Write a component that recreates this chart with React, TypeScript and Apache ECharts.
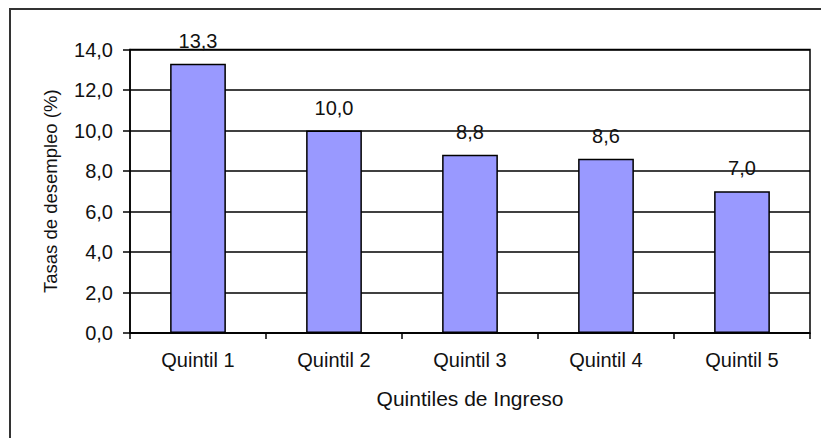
import React, { useEffect, useRef } from "react";
import * as echarts from "echarts";

const categories = ["Quintil 1", "Quintil 2", "Quintil 3", "Quintil 4", "Quintil 5"];
const values = [13.3, 10.0, 8.8, 8.6, 7.0];
const yTicks = { min: 0, max: 14, interval: 2 };
const xName = "Quintiles de Ingreso";
const yName = "Tasas de desempleo (%)";

const FONT = "'Liberation Sans', Arial, sans-serif";
const comma = (v: number) => v.toFixed(1).replace(".", ",");

export default function App() {
  const ref = useRef<HTMLDivElement>(null);
  useEffect(() => {
    if (!ref.current) return;
    const chart = echarts.init(ref.current, undefined, { renderer: "svg" });
    chart.setOption({
      animation: false,
      backgroundColor: "#ffffff",
      textStyle: { fontFamily: FONT },
      graphic: [
        {
          type: "rect",
          shape: { x: 10, y: 9, width: 840, height: 460 },
          style: { fill: "none", stroke: "#333", lineWidth: 2 },
          silent: true,
        },
      ],
      grid: {
        left: 130,
        top: 49.5,
        right: 11,
        bottom: 105,
        show: true,
        borderColor: "#000",
        borderWidth: 1.5,
        backgroundColor: "transparent",
      },
      xAxis: {
        type: "category",
        data: categories,
        name: xName,
        nameLocation: "middle",
        nameGap: 55,
        nameTextStyle: { fontFamily: FONT, fontSize: 21, color: "#111" },
        axisLine: { lineStyle: { color: "#000", width: 1.5 } },
        axisTick: { show: true, length: 6, lineStyle: { color: "#000", width: 1.5 } },
        axisLabel: { fontFamily: FONT, fontSize: 20, color: "#111", margin: 17 },
        splitLine: { show: false },
      },
      yAxis: {
        type: "value",
        min: yTicks.min,
        max: yTicks.max,
        interval: yTicks.interval,
        name: yName,
        nameLocation: "middle",
        nameRotate: 90,
        nameGap: 70,
        nameTextStyle: { fontFamily: FONT, fontSize: 18.5, color: "#111" },
        axisLine: { show: true, lineStyle: { color: "#000", width: 1.5 } },
        axisTick: { show: true, length: 7, lineStyle: { color: "#000", width: 1.5 } },
        axisLabel: {
          fontFamily: FONT,
          fontSize: 20,
          color: "#111",
          margin: 17,
          formatter: (v: number) => comma(v),
        },
        splitLine: { show: true, lineStyle: { color: "#000", width: 1.5 } },
      },
      series: [
        {
          type: "bar",
          data: values,
          barWidth: "41%",
          itemStyle: { color: "#9999ff", borderColor: "#000", borderWidth: 1.5 },
          label: {
            show: true,
            position: "top",
            distance: 13,
            fontFamily: FONT,
            fontSize: 20,
            color: "#111",
            formatter: (p: any) => comma(p.value),
          },
        },
      ],
    });
    return () => chart.dispose();
  }, []);
  return (
    <div
      ref={ref}
      style={{ position: "absolute", left: 0, top: 0, width: 821, height: 438 }}
    />
  );
}
